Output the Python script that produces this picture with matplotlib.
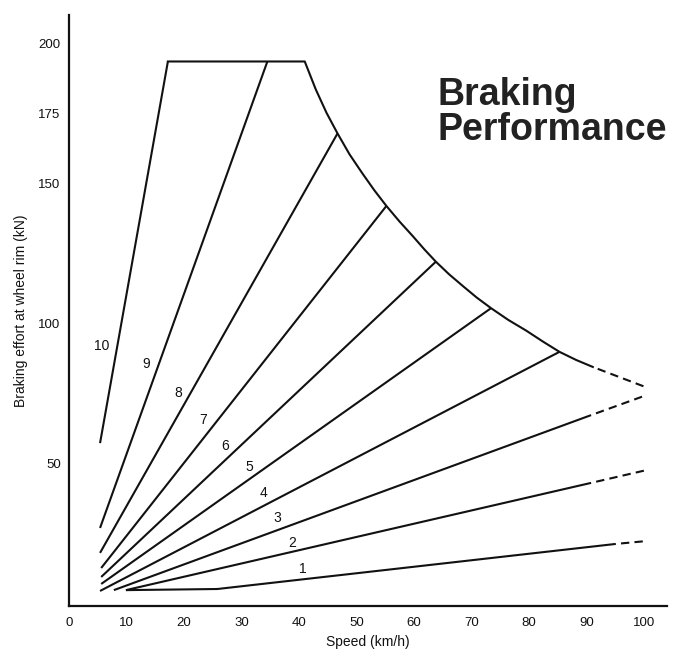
import matplotlib
matplotlib.use("Agg")
import matplotlib.pyplot as plt

plt.rcParams['font.family'] = ['Liberation Sans', 'DejaVu Sans']

# brake step lines 1..10: start point, end of the solid part
notch = [1, 2, 3, 4, 5, 6, 7, 8, 9, 10]
start_x = [9.9, 9.9, 7.8, 5.4, 5.6, 5.6, 5.6, 5.4, 5.4, 5.4]
start_y = [4.6, 4.6, 4.6, 4.3, 6.8, 9.3, 12.5, 17.9, 26.8, 57.1]
end_x = [95.1, 90.8, 90.8, 85.3, 73.4, 63.8, 55.2, 46.7, 34.5, 17.2]
end_y = [21.1, 42.9, 67.1, 89.7, 105.3, 121.9, 141.8, 167.7, 193.4, 193.4]

# notch 1 stays flat up to about 26 km/h
knee_x = 25.8
knee_y = 5.0

# dashed continuation to 100 km/h (notches 1-3)
dash_end_x = [100.3, 100.5, 100.5]
dash_end_y = [22.1, 47.5, 74.3]

# adhesion / power limit envelope
limit_x = [17.2, 41.0, 42.0, 42.9, 44.8, 46.7, 48.8, 51.0, 53.1, 55.2, 57.5, 59.8,
           61.8, 63.8, 66.1, 68.5, 70.9, 73.4, 76.4, 79.5, 82.4, 85.3, 88.2, 91.1]
limit_y = [193.4, 193.4, 188.2, 183.5, 175.0, 167.7, 160.2, 153.5, 147.4, 141.8, 136.2, 131.0,
           126.3, 121.9, 117.4, 113.2, 109.1, 105.3, 101.1, 97.3, 93.4, 89.7, 86.8, 84.3]
limit_dash_x = [91.1, 100.3]
limit_dash_y = [84.3, 77.1]

# where the notch numbers sit
label_x = [40.7, 38.9, 36.2, 33.9, 31.3, 27.2, 23.3, 19.0, 13.4, 5.6]
label_y = [12.0, 21.5, 30.2, 39.2, 48.7, 56.2, 65.4, 75.1, 85.3, 91.8]

x_ticks = [0, 10, 20, 30, 40, 50, 60, 70, 80, 90, 100]
y_ticks = [50, 100, 150, 175, 200]

ink = "#111111"
lw = 1.5
dash = (4.0, (4.0, 2.5))

fig = plt.figure(figsize=(6.77, 6.5), dpi=100)
ax = fig.add_axes([69 / 677, 44 / 650, 598 / 677, 591 / 650])

for i in range(len(notch)):
    if notch[i] == 1:
        xs = [start_x[i], knee_x, end_x[i]]
        ys = [start_y[i], knee_y, end_y[i]]
    else:
        xs = [start_x[i], end_x[i]]
        ys = [start_y[i], end_y[i]]
    ax.plot(xs, ys, color=ink, lw=lw, solid_capstyle='butt')
    if i < len(dash_end_x):
        ax.plot([end_x[i], dash_end_x[i]], [end_y[i], dash_end_y[i]],
                color=ink, lw=lw, linestyle=dash, dash_capstyle='butt')
    ax.text(label_x[i], label_y[i], str(notch[i]), ha='center', va='center',
            fontsize=10, color=ink)

ax.plot(limit_x, limit_y, color=ink, lw=lw, solid_joinstyle='round')
ax.plot(limit_dash_x, limit_dash_y, color=ink, lw=lw, linestyle=dash,
        dash_capstyle='butt')

ax.set_xlim(0, 104)
ax.set_ylim(-1.07, 210)
ax.set_xticks(x_ticks)
ax.set_yticks(y_ticks)
ax.tick_params(length=0, labelsize=9.5, labelcolor=ink)
ax.tick_params(axis='x', pad=8)
ax.tick_params(axis='y', pad=6)

for s in ['top', 'right']:
    ax.spines[s].set_visible(False)
for s in ['left', 'bottom']:
    ax.spines[s].set_linewidth(1.6)
    ax.spines[s].set_color(ink)

ax.set_xlabel("Speed (km/h)", fontsize=10, color=ink, labelpad=4.5)
ax.set_ylabel("Braking effort at wheel rim (kN)", fontsize=10, color=ink, labelpad=7.5)

fig.text(437 / 677, 1 - 77 / 650, "Braking\nPerformance", fontsize=27,
         fontweight='bold', color="#222222", ha='left', va='top', linespacing=0.95)

fig.savefig("out.png", dpi=100)
